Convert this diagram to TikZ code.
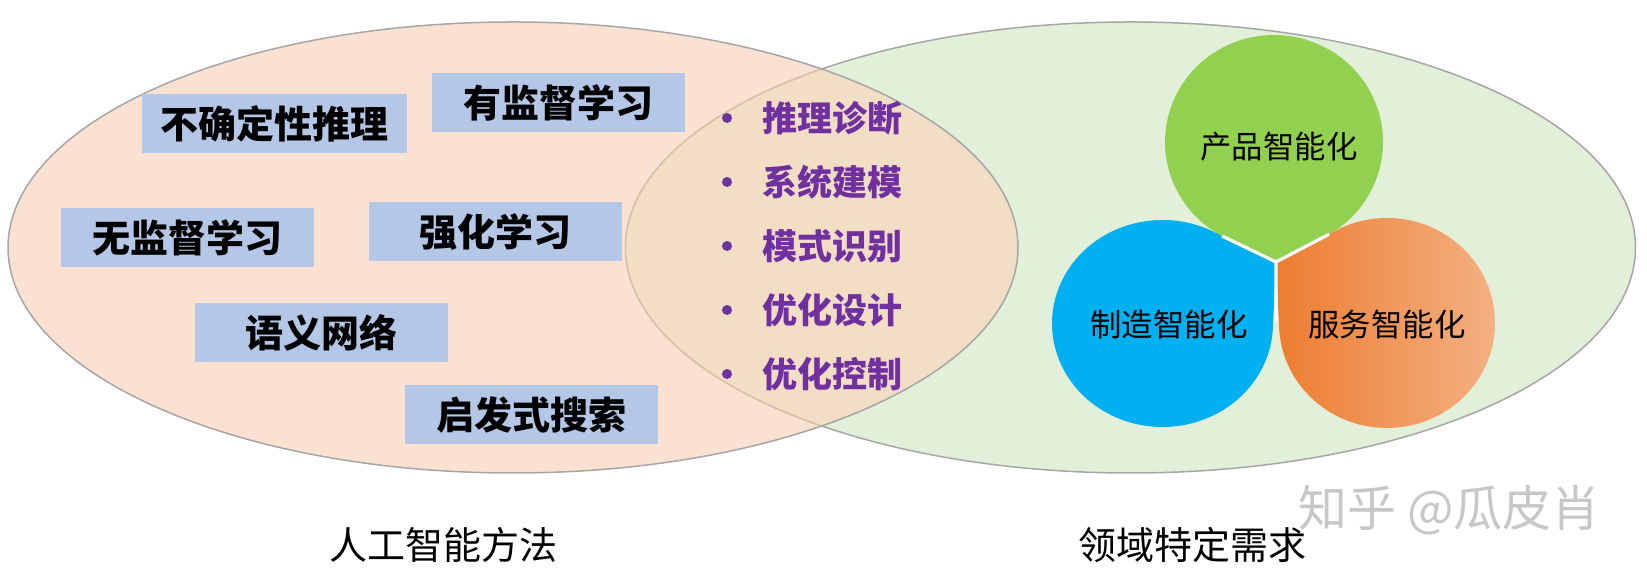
\documentclass[tikz,border=0pt]{standalone}
\usepackage{fontspec}
\newfontfamily\cjk{Noto Sans CJK SC}
\usetikzlibrary{calc}
\definecolor{peach}{HTML}{FBE1D1}
\definecolor{paleleaf}{HTML}{E2EFD9}
\definecolor{lensfill}{HTML}{F1DEC5}
\definecolor{lensrim}{HTML}{D8C3A7}
\definecolor{rimgray}{HTML}{A6A6A6}
\definecolor{boxblue}{HTML}{B4C7E7}
\definecolor{itempurple}{HTML}{7030A0}
\definecolor{prodgreen}{HTML}{92D050}
\definecolor{mfgblue}{HTML}{00B0F0}
\definecolor{svcorange}{HTML}{ED7D31}
\definecolor{svclight}{HTML}{F4B183}
\begin{document}
\begin{tikzpicture}[x=0.5pt,y=0.5pt,line join=round,
	box/.style={fill=boxblue,inner sep=0pt,minimum width=126.5pt,minimum height=29.5pt,font=\cjk\bfseries\fontsize{19pt}{19pt}\selectfont},
	item/.style={anchor=west,inner sep=0pt,text=itempurple,font=\cjk\bfseries\fontsize{17.5pt}{17.5pt}\selectfont},
	lab/.style={inner sep=0pt,font=\cjk\fontsize{15.7pt}{15.7pt}\selectfont},
	title/.style={inner sep=0pt,font=\cjk\fontsize{19pt}{19pt}\selectfont}]
	\useasboundingbox (0,0) rectangle (1647,576);
	\def\rx{505} \def\ry{225.5}
	\coordinate (L) at (513,328.5);
	\coordinate (R) at (1130.5,328.5);
	% two sets and their overlap
	\fill[peach] (L) ellipse [x radius=\rx,y radius=\ry];
	\fill[paleleaf] (R) ellipse [x radius=\rx,y radius=\ry];
	\draw[rimgray,line width=0.75pt] (R) ellipse [x radius=\rx,y radius=\ry];
	\begin{scope}
	\clip (L) ellipse [x radius=\rx,y radius=\ry];
	\fill[lensfill] (R) ellipse [x radius=\rx,y radius=\ry];
	\draw[lensrim,line width=0.75pt] (R) ellipse [x radius=\rx,y radius=\ry];
	\end{scope}
	\draw[rimgray,line width=0.75pt] (L) ellipse [x radius=\rx,y radius=\ry];
	% methods
	\node[box,minimum width=132.5pt] (unc) at (274.5,452) {不确定性推理};
	\node[box] (sup) at (558,473.5) {有监督学习};
	\node[box] (uns) at (187.5,338) {无监督学习};
	\node[box] (rein) at (495.5,344) {强化学习};
	\node[box] (sem) at (321.5,243) {语义网络};
	\node[box] (heu) at (531.5,161.5) {启发式搜索};
	% overlap list
	\foreach \t [count=\i] in {推理诊断,系统建模,模式识别,优化设计,优化控制} {
		\fill[itempurple] (727,{522-64*\i}) circle (5);
		\node[item] (it\i) at (762,{522-64*\i}) {\t};
	}
	% three drops
	\coordinate (P) at (1276,314);
	\coordinate (G) at (1274,434);
	\coordinate (B) at (1162.5,252.5);
	\coordinate (O) at (1387,253);
	\fill[prodgreen] (P) -- ($(G)+(-62.2:109 and 107)$) arc[start angle=-62.2,end angle=244,x radius=109,y radius=107] -- cycle;
	\fill[mfgblue] (P) -- ($(B)+(62.6:110.5 and 103.5)$) arc[start angle=62.6,end angle=357.5,x radius=110.5,y radius=103.5] -- cycle;
	\shade[left color=svcorange,right color=svclight] (P) -- ($(O)+(182.6:108 and 105)$) arc[start angle=182.6,end angle=478.4,x radius=108,y radius=105] -- cycle;
	\draw[white,line width=1.6pt] (P) -- ++(154.3:60) (P) -- ++(27.6:60) (P) -- ++(270:60);
	\node[lab] (prod) at (1279,429) {产品智能化};
	\node[lab] (mfg) at (1169,251) {制造智能化};
	\node[lab] (svc) at (1387,251) {服务智能化};
	% captions
	\node[title] (ai) at (443,31) {人工智能方法};
	\node[title] (dom) at (1192,31) {领域特定需求};
	\node[anchor=west,inner sep=0pt,text=black!22,font=\cjk\fontsize{24.5pt}{24.5pt}\selectfont] (mark) at (1298,66) {知乎 @瓜皮肖};
\end{tikzpicture}
\end{document}
